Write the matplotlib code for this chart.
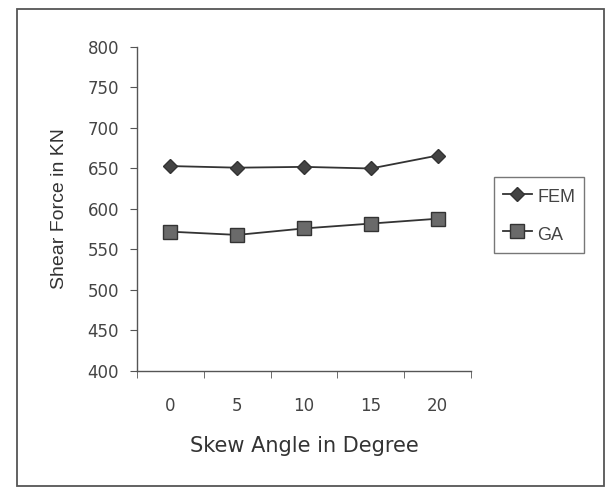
import matplotlib.pyplot as plt
from matplotlib.patches import Rectangle

skew_angles = ["0", "5", "10", "15", "20"]
fem_values = [653, 651, 652, 650, 666]
ga_values = [572, 568, 576, 582, 588]

plt.rcParams['font.family'] = ['Liberation Sans', 'DejaVu Sans']

fig = plt.figure(figsize=(6.15, 4.91), dpi=100)
ax = fig.add_axes([0.2228, 0.2444, 0.5432, 0.6599])

x = list(range(len(skew_angles)))
ax.plot(x, fem_values, color='#333333', lw=1.3, marker='D', ms=7,
        mfc='#444444', mec='#333333', label='FEM')
ax.plot(x, ga_values, color='#333333', lw=1.3, marker='s', ms=10.5,
        mfc='#6a6a6a', mec='#333333', label='GA')

ax.set_xlim(-0.5, 4.5)
ax.set_ylim(400, 800)
ax.set_yticks(range(400, 801, 50))
ax.set_xticks(x)
ax.set_xticklabels(skew_angles)
ax.set_xticks([i - 0.5 for i in range(6)], minor=True)
ax.tick_params(axis='x', which='major', length=0, pad=19)
ax.tick_params(axis='x', which='minor', length=5, color='#555555')
ax.tick_params(axis='y', length=5, color='#555555', pad=8)
ax.tick_params(labelsize=12, labelcolor='#444444')
for lab in ax.get_xticklabels() + ax.get_yticklabels():
    lab.set_family('DejaVu Sans')

for s in ['top', 'right']:
    ax.spines[s].set_visible(False)
for s in ['left', 'bottom']:
    ax.spines[s].set_color('#555555')
    ax.spines[s].set_linewidth(1.0)

ax.set_xlabel('Skew Angle in Degree', fontsize=15, color='#333333', labelpad=15,
              family='DejaVu Sans')
ax.set_ylabel('Shear Force in KN', fontsize=14, color='#333333', labelpad=14)

leg = fig.legend(loc='upper left', bbox_to_anchor=(0.803, 0.6395), fontsize=13,
                 frameon=True, fancybox=False, edgecolor='#555555',
                 handlelength=1.6, handleheight=1.4, borderpad=0.5,
                 labelspacing=0.9, handletextpad=0.3, borderaxespad=0)
for t in leg.get_texts():
    t.set_color('#444444')

# outer chart border
fig.patches.append(Rectangle((17 / 615, 1 - 486 / 491), (604 - 17) / 615, (486 - 9) / 491,
                             transform=fig.transFigure, fill=False,
                             edgecolor='#555555', lw=1.3))

fig.savefig('out.png', dpi=100)
